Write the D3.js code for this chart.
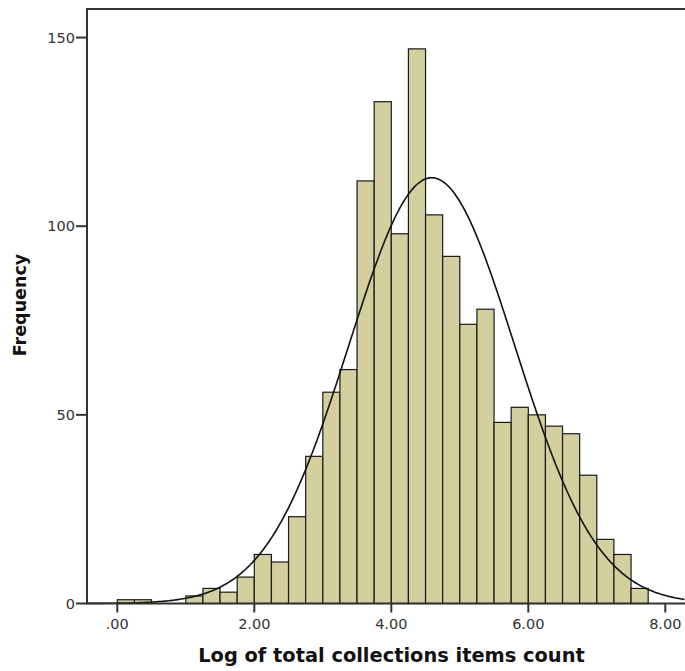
<!DOCTYPE html>
<html><head><meta charset="utf-8">
<script src="https://cdn.jsdelivr.net/npm/d3@7/dist/d3.min.js"></script>
<style>body{margin:0;background:#fff}svg{display:block}</style>
</head><body>
<script>
// Histogram bins (lower edges, width 0.25) and frequencies
const binStarts = [0.00,0.25,1.00,1.25,1.50,1.75,2.00,2.25,2.50,2.75,3.00,3.25,3.50,3.75,4.00,4.25,4.50,4.75,5.00,5.25,5.50,5.75,6.00,6.25,6.50,6.75,7.00,7.25,7.50];
const binWidth = 0.25;
const counts = [1,1,2,4,3,7,13,11,23,39,56,62,112,133,98,147,103,92,74,78,48,52,50,47,45,34,17,13,4];
const xTicks = [0,2,4,6,8];
const xTickLabels = [".00","2.00","4.00","6.00","8.00"];
const yTicks = [0,50,100,150];
const normalMean = 4.59;
const normalSD = 1.21;
const xTitle = "Log of total collections items count";
const yTitle = "Frequency";

(function(){
const W = 685, H = 671;
const svg = d3.select("body").append("svg").attr("width", W).attr("height", H);

const mLeft = 87, mRight = 700, mTop = 9, mBottom = 603.5;
const x = d3.scaleLinear().domain([0, 8]).range([117.3, 665.3]);
const y = d3.scaleLinear().domain([0, 150]).range([mBottom, mBottom - 150*3.773]);

const N = d3.sum(counts);

// bars
svg.append("g").selectAll("rect").data(counts).join("rect")
  .attr("x", (d,i) => x(binStarts[i]))
  .attr("width", (d,i) => x(binStarts[i] + binWidth) - x(binStarts[i]))
  .attr("y", d => y(d))
  .attr("height", d => y(0) - y(d))
  .attr("fill", "#d3cf9f")
  .attr("stroke", "#1a1a1a")
  .attr("stroke-width", 1.2);

// normal curve
const xMin = x.invert(mLeft), xMax = x.invert(W);
const pts = d3.range(xMin, xMax, 0.02).map(v => {
  const z = (v - normalMean) / normalSD;
  return [v, N * binWidth / (normalSD * Math.sqrt(2*Math.PI)) * Math.exp(-0.5*z*z)];
});
svg.append("path").datum(pts)
  .attr("d", d3.line().x(d => x(d[0])).y(d => y(d[1])))
  .attr("fill", "none").attr("stroke", "#111").attr("stroke-width", 1.6);

// frame
svg.append("path")
  .attr("d", `M${mRight},${mTop}H${mLeft}V${mBottom}H${mRight}`)
  .attr("fill", "none").attr("stroke", "#333").attr("stroke-width", 2);

// y axis ticks
const yAxis = svg.append("g");
yAxis.selectAll("line").data(yTicks).join("line")
  .attr("x1", mLeft - 11).attr("x2", mLeft).attr("y1", d => y(d)).attr("y2", d => y(d))
  .attr("stroke", "#333").attr("stroke-width", 2);
yAxis.selectAll("text").data(yTicks).join("text")
  .attr("x", mLeft - 12).attr("y", d => y(d)).attr("dy", "0.35em")
  .attr("text-anchor", "end").attr("font-family", "DejaVu Sans").attr("font-size", 14.5)
  .attr("fill", "#333").text(d => d);

// x axis ticks
const xAxis = svg.append("g");
xAxis.selectAll("line").data(xTicks).join("line")
  .attr("x1", d => x(d)).attr("x2", d => x(d)).attr("y1", mBottom).attr("y2", mBottom + 9)
  .attr("stroke", "#333").attr("stroke-width", 2);
xAxis.selectAll("text").data(xTicks).join("text")
  .attr("x", d => x(d)).attr("y", mBottom + 20).attr("dy", "0.35em")
  .attr("text-anchor", "middle").attr("font-family", "DejaVu Sans").attr("font-size", 14.5)
  .attr("fill", "#333").text((d,i) => xTickLabels[i]);

// titles
svg.append("text").attr("x", 391.5).attr("y", 655).attr("dy", "0.35em")
  .attr("text-anchor", "middle").attr("font-family", "DejaVu Sans").attr("font-weight", "bold")
  .attr("font-size", 19.4).attr("fill", "#111").text(xTitle);
svg.append("text").attr("transform", "translate(20,305) rotate(-90)").attr("dy", "0.35em")
  .attr("text-anchor", "middle").attr("font-family", "DejaVu Sans").attr("font-weight", "bold")
  .attr("font-size", 17.5).attr("fill", "#111").text(yTitle);
})();
</script>
</body></html>
